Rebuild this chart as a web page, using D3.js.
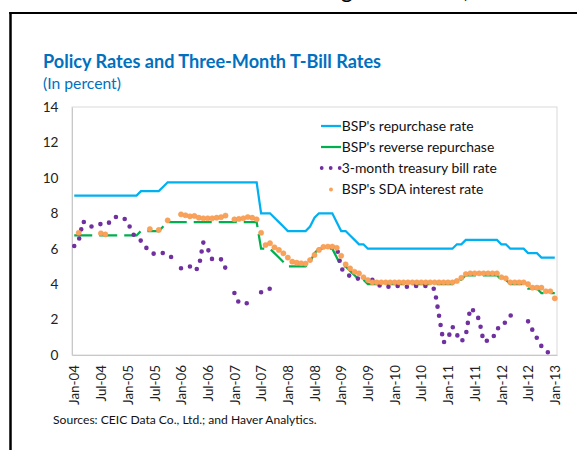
<!DOCTYPE html>
<html>
<head>
<meta charset="utf-8">
<script src="https://cdn.jsdelivr.net/npm/d3@7"></script>
<style>
  body { margin: 0; background: #fff; }
  svg { display: block; font-family: Lato, "Open Sans", sans-serif; }
</style>
</head>
<body>
<div class="chart"></div>
<script>
// monthly data, Jan-04 .. Jan-13 (one row per year)
const tickLabels = ['Jan-04', 'Jul-04', 'Jan-05', 'Jul-05', 'Jan-06', 'Jul-06', 'Jan-07', 'Jul-07', 'Jan-08',
    'Jul-08', 'Jan-09', 'Jul-09', 'Jan-10', 'Jul-10', 'Jan-11', 'Jul-11', 'Jan-12', 'Jul-12', 'Jan-13'];

const repoRate = [
    9, 9, 9, 9, 9, 9, 9, 9, 9, 9, 9, 9,
    9, 9, 9, 9.25, 9.25, 9.25, 9.25, 9.25, 9.5, 9.75, 9.75, 9.75,
    9.75, 9.75, 9.75, 9.75, 9.75, 9.75, 9.75, 9.75, 9.75, 9.75, 9.75, 9.75,
    9.75, 9.75, 9.75, 9.75, 9.75, 9.75, 8, 8, 8, 7.75, 7.5, 7.25,
    7, 7, 7, 7, 7, 7.25, 7.75, 8, 8, 8, 8, 7.5,
    7, 7, 6.75, 6.5, 6.25, 6.25, 6, 6, 6, 6, 6, 6,
    6, 6, 6, 6, 6, 6, 6, 6, 6, 6, 6, 6,
    6, 6, 6.25, 6.25, 6.5, 6.5, 6.5, 6.5, 6.5, 6.5, 6.5, 6.5,
    6.25, 6.25, 6, 6, 6, 6, 5.75, 5.75, 5.75, 5.5, 5.5, 5.5,
    5.5
];

const reverseRepo = [
    6.75, 6.75, 6.75, 6.75, 6.75, 6.75, 6.75, 6.75, 6.75, 6.75, 6.75, 6.75,
    6.75, 6.75, 6.75, 7, 7, 7, 7, 7, 7.25, 7.5, 7.5, 7.5,
    7.5, 7.5, 7.5, 7.5, 7.5, 7.5, 7.5, 7.5, 7.5, 7.5, 7.5, 7.5,
    7.5, 7.5, 7.5, 7.5, 7.5, 7.5, 6, 6, 6, 5.75, 5.5, 5.25,
    5, 5, 5, 5, 5, 5.25, 5.75, 6, 6, 6, 6, 5.5,
    5, 5, 4.75, 4.5, 4.25, 4.25, 4, 4, 4, 4, 4, 4,
    4, 4, 4, 4, 4, 4, 4, 4, 4, 4, 4, 4,
    4, 4, 4.25, 4.25, 4.5, 4.5, 4.5, 4.5, 4.5, 4.5, 4.5, 4.5,
    4.25, 4.25, 4, 4, 4, 4, 3.75, 3.75, 3.75, 3.5, 3.5, 3.5,
    3.5
];

const tBillRate = [
    6.15, 6.45, 7.55, 7.3, 7.25, 7.3, 7.4, 7.35, 7.5, 7.78, 7.8, 7.75,
    7.55, 6.9, 6.6, 6.45, 6.1, 5.85, 5.7, 5.72, 5.76, 5.65, 5.5, null,
    4.9, 5.0, 5.0, 4.75, 4.95, 6.35, 6.0, 5.4, 5.4, 5.4, 4.9, null,
    3.5, 2.95, 2.93, 2.92, null, null, 3.54, 3.65, 3.75, null, null, null,
    null, null, null, null, null, null, null, null, null, null, 6.1, 6.1,
    4.9, 4.6, 4.45, 4.35, 4.3, null, null, 4.25, 4.05, 3.85, 3.85, 3.85,
    3.9, 3.9, 3.85, 3.85, 3.9, 3.9, 3.9, 3.9, 3.9, 3.7, 2.2, 0.7,
    0.95, 1.6, 1.15, 0.75, 1.1, 2.65, 2.45, 2.0, 0.75, 0.82, 0.9, 1.5,
    1.55, 1.9, 2.2, 2.5, null, null, 1.9, 1.4, 0.95, 0.5, 0.2, 0.1,
    null
];

const sdaRate = [
    null, 6.9, null, null, null, null, 6.87, 6.81, null, null, null, null,
    null, null, null, null, null, 7.11, null, 7.06, null, 7.6, null, null,
    7.94, 7.89, 7.83, 7.85, 7.75, 7.72, 7.72, 7.72, 7.75, 7.78, 7.87, null,
    7.66, 7.68, 7.72, 7.79, 7.75, 7.66, 6.9, 6.21, 6.31, 6.08, 5.93, 5.74,
    5.5, 5.27, 5.21, 5.18, 5.16, 5.36, 5.65, 5.93, 6.1, 6.12, 6.12, 6.05,
    5.6, 5.12, 4.89, 4.7, 4.61, 4.39, 4.23, 4.1, 4.1, 4.1, 4.1, 4.1,
    4.1, 4.1, 4.1, 4.1, 4.1, 4.1, 4.1, 4.1, 4.1, 4.1, 4.1, 4.1,
    4.1, 4.1, 4.18, 4.36, 4.57, 4.61, 4.61, 4.61, 4.61, 4.61, 4.61, 4.61,
    4.39, 4.33, 4.1, 4.1, 4.1, 4.1, 4.0, 3.8, 3.8, 3.8, 3.6, 3.6,
    3.2
];

const seriesNames = ["BSP's repurchase rate", "BSP's reverse repurchase", '3-month treasury bill rate', "BSP's SDA interest rate"];

const W = 577, H = 450;
const blue = '#00B0F0', green = '#00B050', purple = '#7030A0', orange = '#F9A25C', titleBlue = '#0070C0';

const svg = d3.select('.chart')
    .append('svg')
    .attr('width', W)
    .attr('height', H);

// scale font so the text takes the wanted width
const fitText = (sel, width) => {
    const fs = parseFloat(sel.attr('font-size'));
    const size = fs * width / sel.node().getComputedTextLength();
    sel.attr('font-size', size.toFixed(2));
    return size;
};

// page frame and the heading cut off above it (only descenders show)
const headText = 'Interest Rate Setting at the BSP,';
const head = svg.append('text')
    .text(headText)
    .attr('font-size', 20)
    .attr('fill', '#000');
const full = head.node().getComputedTextLength();
const gEnd = head.node().getSubStringLength(0, headText.indexOf('g') + 1);
const hs = 20 * 116 / (full - gEnd);
head.attr('font-size', hs.toFixed(2))
    .attr('x', 353 - gEnd * hs / 20)
    .attr('y', 3.6 - 0.22 * hs);

svg.append('line').attr('x1', 10.5).attr('x2', 10.5).attr('y1', 12).attr('y2', H)
    .attr('stroke', '#000').attr('stroke-width', 2.5);
svg.append('line').attr('x1', 9.25).attr('x2', W).attr('y1', 13).attr('y2', 13)
    .attr('stroke', '#000').attr('stroke-width', 2);

// title
const title = svg.append('text')
    .text('Policy Rates and Three-Month T-Bill Rates')
    .attr('x', 43).attr('y', 68)
    .attr('font-size', 16).attr('font-weight', 'bold')
    .attr('fill', titleBlue);
fitText(title, 338);

const sub = svg.append('text')
    .text('(In percent)')
    .attr('x', 43).attr('y', 89)
    .attr('font-size', 14)
    .attr('fill', titleBlue);
fitText(sub, 78);

// scales
const plotL = 72, plotR = 557, plotT = 107, plotB = 355;

const x = d3.scaleLinear()
    .domain([-0.5, repoRate.length - 0.5])
    .range([plotL, plotR]);

const y = d3.scaleLinear()
    .domain([0, 14])
    .range([plotB, plotT]);

svg.append('rect')
    .attr('x', plotL).attr('y', plotT)
    .attr('width', plotR - plotL).attr('height', plotB - plotT)
    .attr('fill', 'none').attr('stroke', '#D9D9D9');

// axes
const xAxis = d3.axisBottom(x)
    .tickValues(tickLabels.map((d, i) => i * 6))
    .tickFormat((d, i) => tickLabels[i])
    .tickSize(0);

const gx = svg.append('g')
    .attr('transform', `translate(0, ${plotB})`)
    .call(xAxis)
    .attr('font-family', null);
gx.select('.domain').attr('stroke', '#C8C8C8');
gx.selectAll('text')
    .attr('font-size', 14)
    .attr('fill', '#222')
    .attr('y', 0)
    .attr('x', -10)
    .attr('dy', '0.35em')
    .attr('transform', 'rotate(-90)')
    .attr('text-anchor', 'end');
const tickSize = fitText(gx.select('text'), 40);
gx.selectAll('text').attr('font-size', tickSize.toFixed(2));

const yAxis = d3.axisLeft(y)
    .tickValues(d3.range(0, 15, 2))
    .tickSize(0)
    .tickPadding(13.5);

const gy = svg.append('g')
    .attr('transform', `translate(${plotL}, 0)`)
    .call(yAxis)
    .attr('font-family', null);
gy.select('.domain').attr('stroke', '#C8C8C8');
gy.selectAll('text')
    .attr('font-size', (tickSize * 1.02).toFixed(2))
    .attr('fill', '#222');

// series
const line = d3.line()
    .defined(d => d != null)
    .x((d, i) => x(i))
    .y(d => y(d));

svg.append('path')
    .attr('d', line(repoRate))
    .attr('fill', 'none')
    .attr('stroke', blue)
    .attr('stroke-width', 2.25);

svg.append('path')
    .attr('d', line(reverseRepo))
    .attr('fill', 'none')
    .attr('stroke', green)
    .attr('stroke-width', 2.25)
    .attr('stroke-dasharray', '18,7');

svg.append('path')
    .attr('d', line(tBillRate))
    .attr('fill', 'none')
    .attr('stroke', purple)
    .attr('stroke-width', 4.6)
    .attr('stroke-linecap', 'round')
    .attr('stroke-dasharray', '0,9.3');

svg.append('g')
    .selectAll('circle')
    .data(sdaRate.map((v, i) => ({ v, i })).filter(d => d.v != null))
    .enter()
    .append('circle')
    .attr('cx', d => x(d.i))
    .attr('cy', d => y(d.v))
    .attr('r', 2.6)
    .attr('fill', orange)
    .attr('stroke', '#F79646')
    .attr('stroke-width', 0.5);

// legend
const legend = svg.append('g').attr('transform', 'translate(321, 126)');
const rowH = 21;

legend.append('line').attr('x1', 0).attr('x2', 20).attr('y1', 0).attr('y2', 0)
    .attr('stroke', blue).attr('stroke-width', 2.25);
legend.append('line').attr('x1', 0).attr('x2', 20).attr('y1', rowH).attr('y2', rowH)
    .attr('stroke', green).attr('stroke-width', 2.25);
legend.append('line').attr('x1', 0.7).attr('x2', 20).attr('y1', rowH * 2).attr('y2', rowH * 2)
    .attr('stroke', purple).attr('stroke-width', 3.8)
    .attr('stroke-linecap', 'round').attr('stroke-dasharray', '0,9');
legend.append('circle').attr('cx', 10).attr('cy', rowH * 3 + 0.5).attr('r', 2)
    .attr('fill', orange);

const labels = legend.selectAll('text.lab')
    .data(seriesNames)
    .enter()
    .append('text')
    .attr('class', 'lab')
    .text(d => d)
    .attr('x', 20.7)
    .attr('y', (d, i) => i * rowH + 4.6)
    .attr('font-size', 14)
    .attr('fill', '#111');
const legSize = fitText(d3.select(labels.nodes()[0]), 132);
labels.attr('font-size', legSize.toFixed(2));

// source note
const note = svg.append('text')
    .text('Sources: CEIC Data Co., Ltd.; and Haver Analytics.')
    .attr('x', 53).attr('y', 424)
    .attr('font-size', 12)
    .attr('fill', '#111');
fitText(note, 264);
</script>
</body>
</html>
